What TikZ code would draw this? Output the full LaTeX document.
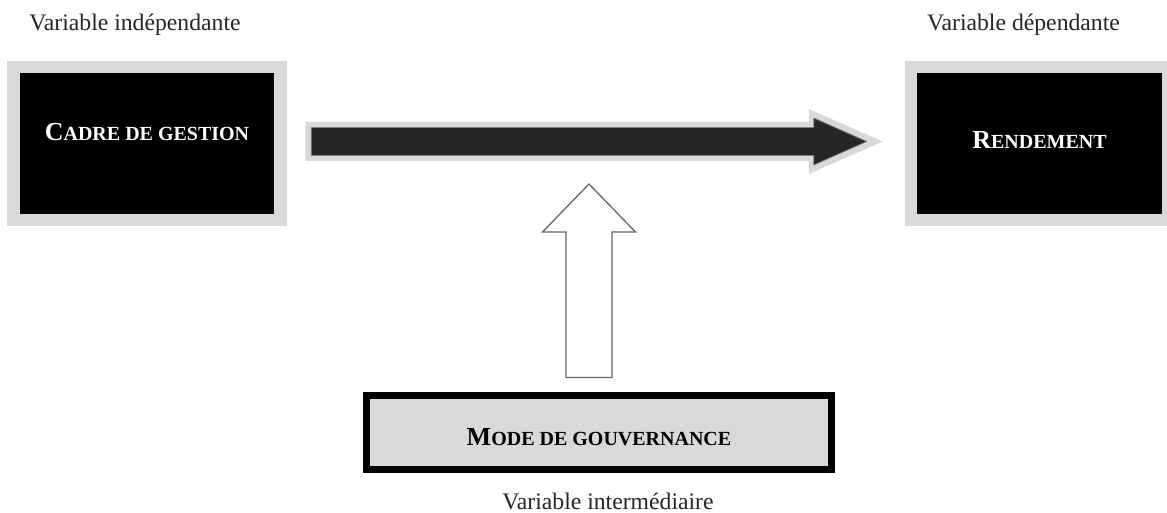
\documentclass[tikz,border=0pt]{standalone}
\usepackage{fontspec}
\setmainfont{Liberation Serif}
\usetikzlibrary{calc}

% petites capitales (grande initiale + reste plus petit)
\newcommand{\petitcap}[2]{\textbf{\fontsize{26}{30}\selectfont #1\fontsize{20}{24}\selectfont #2}}

\begin{document}
\begin{tikzpicture}[x=1pt,y=-1pt,
	boite/.style={fill=black, draw=black!15, line width=12.5pt, inner sep=0pt, text=white, minimum height=153pt},
	etiquette/.style={anchor=base, text=black!85, font=\fontsize{23.7}{28}\selectfont},
	fleche pleine/.style={fill=black!85, draw=black!50, line width=0.8pt, line join=miter},
	fleche creuse/.style={draw=black!60, fill=white, line width=1.3pt, line join=miter}]
	\useasboundingbox (0,0) rectangle (1167,513);

	% variables
	\node[boite, minimum width=267pt, text height=17pt, text depth=22.6pt] (cadre) at (147,143.5) {\petitcap{C}{ADRE DE GESTION}};
	\node[boite, minimum width=257.5pt, text height=17pt, text depth=6pt] (rendement) at (1039.5,143.5) {\petitcap{R}{ENDEMENT}};
	\node[fill=black!15, draw=black, line width=7pt, minimum width=465pt, minimum height=74pt, inner sep=0pt,
		text height=32pt, text depth=7pt] (mode) at (599,432.5) {\petitcap{M}{ODE DE GOUVERNANCE}};

	\node[etiquette] (vi) at (135,31) {Variable indépendante};
	\node[etiquette] (vd) at (1023.5,31) {Variable dépendante};
	\node[etiquette] (vm) at (608,509) {Variable intermédiaire};

	% fleche principale
	\coordinate (depart) at ([yshift=2pt]cadre.east);
	\coordinate (arrivee) at ([yshift=2pt]rendement.west);
	\fill[black!15] ($(depart)+(18.5,-19.5)$) -- ($(arrivee)+(-95.75,-19.5)$) -- ++(0,-13)
		-- ($(arrivee)+(-21.75,0)$) -- ($(arrivee)+(-95.75,32.5)$) -- ++(0,-13)
		-- ($(depart)+(18.5,19.5)$) -- cycle;
	\draw[fleche pleine] ($(depart)+(24.5,-14)$) -- ($(arrivee)+(-90.75,-14)$) -- ++(0,-9.5)
		-- ($(arrivee)+(-37.75,0)$) -- ($(arrivee)+(-90.75,23.5)$) -- ++(0,-9.5)
		-- ($(depart)+(24.5,14)$) -- cycle;

	% fleche du mode de gouvernance
	\coordinate (pointe) at (589,184);
	\coordinate (base) at ($(pointe |- mode.north)+(0,-14.5)$);
	\draw[fleche creuse] (pointe) -- ++(46.5,48) -- ++(-23.5,0) |- ($(base)+(-23,0)$)
		-- ($(pointe)+(-23,48)$) -- ++(-23.5,0) -- cycle;
\end{tikzpicture}
\end{document}
